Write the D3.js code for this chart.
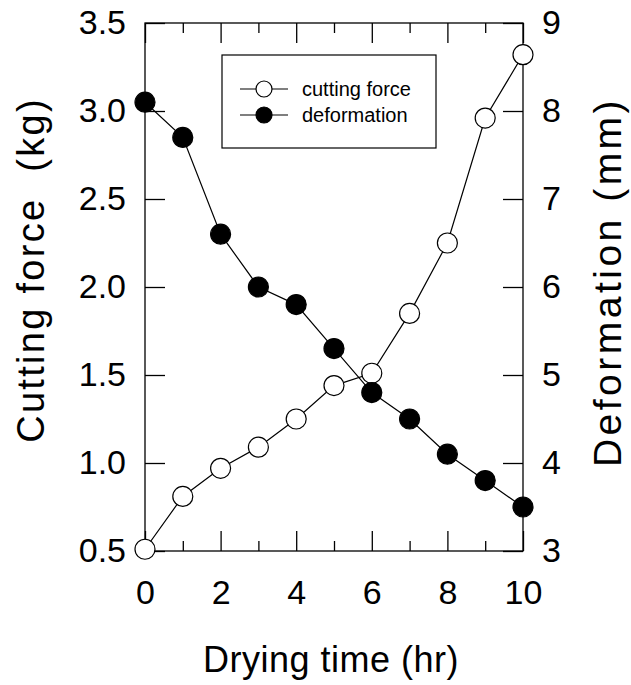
<html>

<head>
  <title>Cutting force and deformation vs drying time</title>
  <script src="https://d3js.org/d3.v7.min.js"></script>
  <style>
    body {
      margin: 0;
      background: #fff;
    }

    text {
      font-family: "Liberation Sans", Arial, sans-serif;
      fill: black;
    }
  </style>
</head>

<body>
  <svg id="chart" width="631" height="685"></svg>

  <script>
    // values
    const dryingTime = [0, 1, 2, 3, 4, 5, 6, 7, 8, 9, 10];
    const cuttingForce = [0.51, 0.81, 0.97, 1.09, 1.25, 1.44, 1.51, 1.85, 2.25, 2.96, 3.32];
    const deformation = [8.1, 7.7, 6.6, 6.0, 5.8, 5.3, 4.8, 4.5, 4.1, 3.8, 3.5];

    const xMajorTicks = [0, 2, 4, 6, 8, 10];
    const xMinorTicks = [1, 3, 5, 7, 9];
    const forceTicks = [0.5, 1.0, 1.5, 2.0, 2.5, 3.0, 3.5];
    const deformTicks = [3, 4, 5, 6, 7, 8, 9];

    const seriesNames = ["cutting force", "deformation"];

    const svg = d3.select("#chart");
    const plot = { left: 145, right: 523, top: 23, bottom: 551 };

    const x = d3.scaleLinear().domain([0, 10]).range([plot.left, plot.right]);
    const yForce = d3.scaleLinear().domain([0.5, 3.5]).range([plot.bottom, plot.top]);
    const yDeform = d3.scaleLinear().domain([3, 9]).range([plot.bottom, plot.top]);

    const fontSize = 34;

    // frame
    svg.append("rect")
      .attr("x", plot.left)
      .attr("y", plot.top)
      .attr("width", plot.right - plot.left)
      .attr("height", plot.bottom - plot.top)
      .attr("fill", "none")
      .attr("stroke", "black")
      .attr("stroke-width", 1.3);

    function styleAxis(g) {
      g.select(".domain").remove();
      g.selectAll(".tick line").attr("stroke", "black").attr("stroke-width", 1.3);
      g.selectAll(".tick text")
        .style("font-family", '"Liberation Sans", Arial, sans-serif')
        .style("font-size", fontSize + "px")
        .attr("fill", "black");
    }

    // bottom axis, major with labels
    svg.append("g")
      .attr("transform", `translate(0,${plot.bottom})`)
      .call(d3.axisBottom(x).tickValues(xMajorTicks).tickSize(-20).tickPadding(29).tickFormat(d3.format("d")))
      .call(styleAxis);

    // bottom axis, minor
    svg.append("g")
      .attr("transform", `translate(0,${plot.bottom})`)
      .call(d3.axisBottom(x).tickValues(xMinorTicks).tickSize(-10).tickFormat(""))
      .call(styleAxis);

    // top axis
    svg.append("g")
      .attr("transform", `translate(0,${plot.top})`)
      .call(d3.axisTop(x).tickValues(xMajorTicks).tickSize(-20).tickFormat(""))
      .call(styleAxis);

    svg.append("g")
      .attr("transform", `translate(0,${plot.top})`)
      .call(d3.axisTop(x).tickValues(xMinorTicks).tickSize(-10).tickFormat(""))
      .call(styleAxis);

    // left axis
    svg.append("g")
      .attr("transform", `translate(${plot.left},0)`)
      .call(d3.axisLeft(yForce).tickValues(forceTicks).tickSize(-20).tickPadding(19).tickFormat(d3.format(".1f")))
      .call(styleAxis);

    // right axis
    svg.append("g")
      .attr("transform", `translate(${plot.right},0)`)
      .call(d3.axisRight(yDeform).tickValues(deformTicks).tickSize(-20).tickPadding(19).tickFormat(d3.format("d")))
      .call(styleAxis);

    // axis titles
    svg.append("text")
      .attr("x", 331)
      .attr("y", 672)
      .attr("text-anchor", "middle")
      .style("font-size", "36px")
      .style("letter-spacing", "0.5px")
      .text("Drying time (hr)");

    svg.append("text")
      .attr("transform", `translate(44,270) rotate(-90)`)
      .attr("text-anchor", "middle")
      .style("font-size", "38px")
      .style("letter-spacing", "2.3px")
      .style("white-space", "pre")
      .text("Cutting force  (kg)");

    svg.append("text")
      .attr("transform", `translate(621,282) rotate(-90)`)
      .attr("text-anchor", "middle")
      .style("font-size", "39px")
      .style("letter-spacing", "3.5px")
      .text("Deformation (mm)");

    // lines
    const forceLine = d3.line()
      .x((d, i) => x(dryingTime[i]))
      .y(d => yForce(d));

    const deformLine = d3.line()
      .x((d, i) => x(dryingTime[i]))
      .y(d => yDeform(d));

    svg.append("path")
      .datum(cuttingForce)
      .attr("d", forceLine)
      .attr("fill", "none")
      .attr("stroke", "black")
      .attr("stroke-width", 1.2);

    svg.append("path")
      .datum(deformation)
      .attr("d", deformLine)
      .attr("fill", "none")
      .attr("stroke", "black")
      .attr("stroke-width", 1.2);

    // markers
    svg.selectAll(".force-dot")
      .data(cuttingForce)
      .join("circle")
      .attr("class", "force-dot")
      .attr("cx", (d, i) => x(dryingTime[i]))
      .attr("cy", d => yForce(d))
      .attr("r", 10)
      .attr("fill", "white")
      .attr("stroke", "black")
      .attr("stroke-width", 1.2);

    svg.selectAll(".deform-dot")
      .data(deformation)
      .join("circle")
      .attr("class", "deform-dot")
      .attr("cx", (d, i) => x(dryingTime[i]))
      .attr("cy", d => yDeform(d))
      .attr("r", 10)
      .attr("fill", "black")
      .attr("stroke", "black")
      .attr("stroke-width", 1.2);

    // legend
    const legend = svg.append("g");

    legend.append("rect")
      .attr("x", 222)
      .attr("y", 55)
      .attr("width", 214)
      .attr("height", 93)
      .attr("fill", "white")
      .attr("stroke", "black")
      .attr("stroke-width", 1.2);

    const rows = legend.selectAll(".legend-row")
      .data(seriesNames)
      .join("g")
      .attr("class", "legend-row")
      .attr("transform", (d, i) => `translate(0,${89 + i * 26})`);

    rows.append("line")
      .attr("x1", 240)
      .attr("x2", 288)
      .attr("stroke", "black")
      .attr("stroke-width", 1.2);

    rows.append("circle")
      .attr("cx", 264)
      .attr("r", 8)
      .attr("fill", (d, i) => i === 0 ? "white" : "black")
      .attr("stroke", "black")
      .attr("stroke-width", 1.2);

    rows.append("text")
      .attr("x", 302)
      .attr("dy", "0.35em")
      .style("font-size", "20px")
      .text(d => d);
  </script>
</body>

</html>
